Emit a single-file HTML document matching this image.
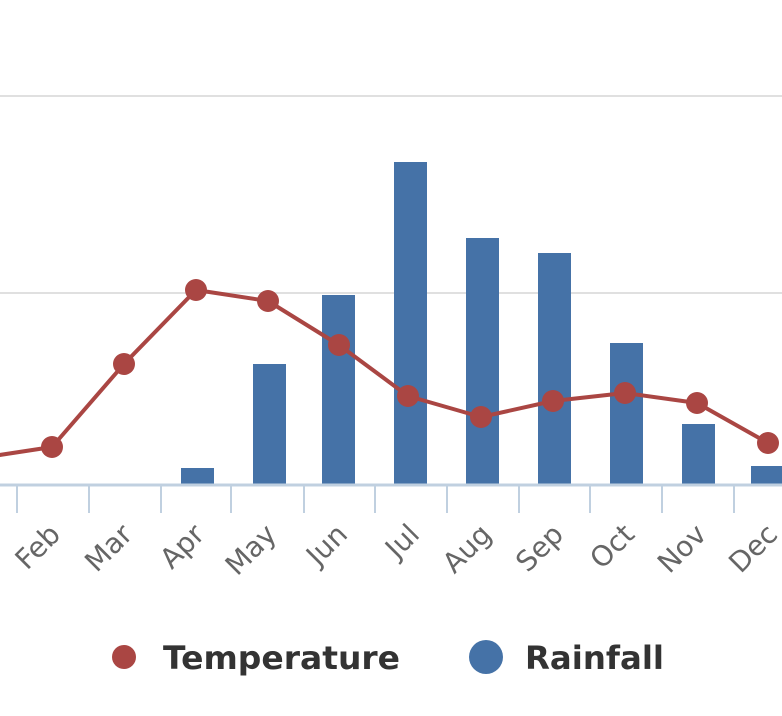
<!DOCTYPE html>
<html><head><style>
html,body{margin:0;padding:0;background:#fff;width:782px;height:716px;overflow:hidden}
text{font-family:"DejaVu Sans","Liberation Sans",sans-serif}
</style></head><body>
<svg width="782" height="716" viewBox="0 0 782 716" xmlns="http://www.w3.org/2000/svg">
<rect width="782" height="716" fill="#fff"/>
<line x1="0" y1="96" x2="782" y2="96" stroke="#e0e0e0" stroke-width="2"/>
<line x1="0" y1="293" x2="782" y2="293" stroke="#e0e0e0" stroke-width="2"/>
<g fill="#4572A7">
<rect x="181" y="468" width="33" height="16"/>
<rect x="253" y="364" width="33" height="120"/>
<rect x="322" y="295" width="33" height="189"/>
<rect x="394" y="162" width="33" height="322"/>
<rect x="466" y="238" width="33" height="246"/>
<rect x="538" y="253" width="33" height="231"/>
<rect x="610" y="343" width="33" height="141"/>
<rect x="682" y="424" width="33" height="60"/>
<rect x="751" y="466" width="33" height="18"/>
</g>
<line x1="0" y1="485" x2="782" y2="485" stroke="#c0d0e0" stroke-width="3"/>
<g stroke="#c0d0e0" stroke-width="2">
<line x1="17" y1="485" x2="17" y2="513"/><line x1="89" y1="485" x2="89" y2="513"/>
<line x1="161" y1="485" x2="161" y2="513"/><line x1="231" y1="485" x2="231" y2="513"/>
<line x1="304" y1="485" x2="304" y2="513"/><line x1="375" y1="485" x2="375" y2="513"/>
<line x1="447" y1="485" x2="447" y2="513"/><line x1="519" y1="485" x2="519" y2="513"/>
<line x1="590" y1="485" x2="590" y2="513"/><line x1="662" y1="485" x2="662" y2="513"/>
<line x1="734" y1="485" x2="734" y2="513"/>
</g>
<polyline fill="none" stroke="#AA4643" stroke-width="4" stroke-linejoin="round"
points="-20,458 52,447 124,364 196,290 268,301 339,345 408,396 481,417 553,401 625,393 697,403 768,443"/>
<g fill="#AA4643">
<circle cx="52" cy="447" r="11"/><circle cx="124" cy="364" r="11"/><circle cx="196" cy="290" r="11"/>
<circle cx="268" cy="301" r="11"/><circle cx="339" cy="345" r="11"/><circle cx="408" cy="396" r="11"/>
<circle cx="481" cy="417" r="11"/><circle cx="553" cy="401" r="11"/><circle cx="625" cy="393" r="11"/>
<circle cx="697" cy="403" r="11"/><circle cx="768" cy="443" r="11"/>
</g>
<g fill="#666" font-size="28" text-anchor="end" style="font-family:'Liberation Sans',sans-serif">
<text transform="translate(62,536) rotate(-45)">Feb</text>
<text transform="translate(134,536) rotate(-45)">Mar</text>
<text transform="translate(206,536) rotate(-45)">Apr</text>
<text transform="translate(278,536) rotate(-45)">May</text>
<text transform="translate(349,536) rotate(-45)">Jun</text>
<text transform="translate(421,536) rotate(-45)">Jul</text>
<text transform="translate(493,536) rotate(-45)">Aug</text>
<text transform="translate(565,536) rotate(-45)">Sep</text>
<text transform="translate(636,536) rotate(-45)">Oct</text>
<text transform="translate(708,536) rotate(-45)">Nov</text>
<text transform="translate(779,536) rotate(-45)">Dec</text>
</g>
<circle cx="124" cy="657" r="12" fill="#AA4643"/>
<text x="163" y="669" font-size="32" font-weight="bold" fill="#333" textLength="237" lengthAdjust="spacingAndGlyphs">Temperature</text>
<circle cx="486" cy="657" r="17" fill="#4572A7"/>
<text x="525" y="669" font-size="32" font-weight="bold" fill="#333" textLength="139" lengthAdjust="spacingAndGlyphs">Rainfall</text>
</svg>
</body></html>
